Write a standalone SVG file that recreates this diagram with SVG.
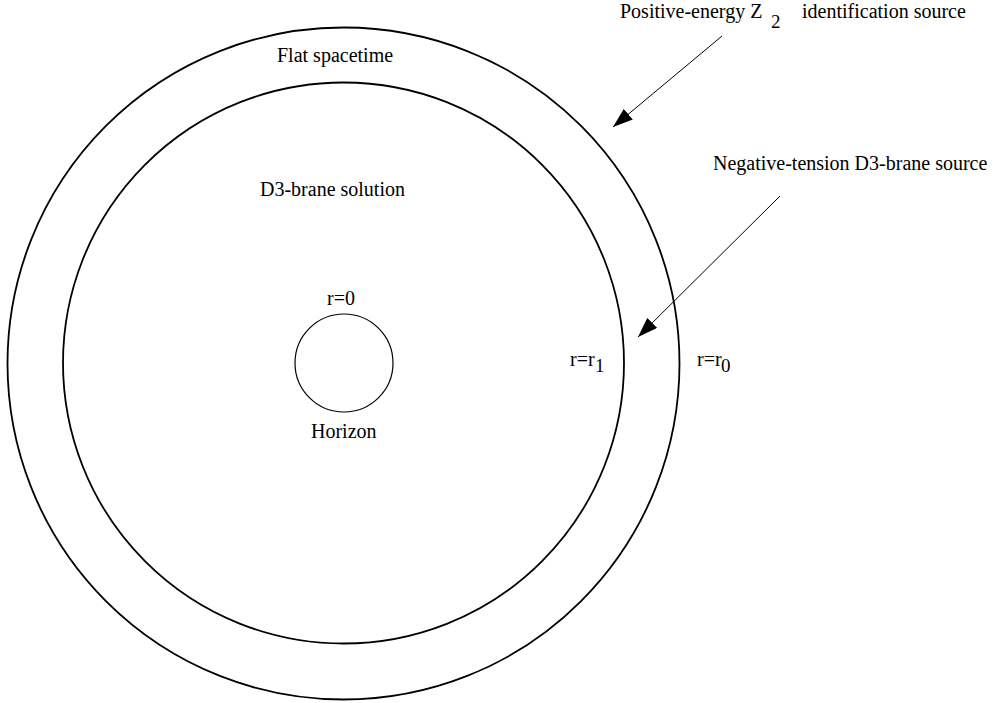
<svg xmlns="http://www.w3.org/2000/svg" width="993" height="703" viewBox="0 0 993 703">
<style>
text{font-family:"Liberation Serif",Tinos,"Times New Roman",Times,"DejaVu Serif",serif;font-size:20px;fill:#000}
.sub{font-size:19px}
.ring{fill:none;stroke:#000;stroke-width:1.8}
.hz{fill:none;stroke:#000;stroke-width:1.2}
.arr{stroke:#000;stroke-width:1;fill:none;marker-end:url(#ah)}
</style>
<defs>
<marker id="ah" markerUnits="userSpaceOnUse" markerWidth="22" markerHeight="14" refX="20" refY="7" orient="auto">
<path d="M0,0 L20,7 L0,14 Z" fill="#000"/>
</marker>
</defs>
<rect width="993" height="703" fill="#fff"/>
<g id="outer-circle">
<circle class="ring" cx="343.5" cy="363.5" r="336"/>
<text x="277" y="62" font-family="Liberation Serif, serif">Flat spacetime</text>
</g>
<g id="inner-circle">
<circle class="ring" cx="343.5" cy="363" r="280.5"/>
<text x="260" y="196">D3-brane solution</text>
</g>
<g id="horizon">
<circle class="hz" cx="344" cy="363" r="49"/>
<text x="327" y="305">r=0</text>
<text x="311" y="438">Horizon</text>
</g>
<g id="label-r1">
<text x="570" y="366">r=r</text>
<text class="sub" x="595" y="372">1</text>
</g>
<g id="label-r0">
<text x="697" y="366">r=r</text>
<text class="sub" x="721" y="372">0</text>
</g>
<g id="label-positive">
<text x="620" y="18">Positive-energy Z</text>
<text class="sub" x="771" y="28">2</text>
<text x="802" y="18">identification source</text>
</g>
<g id="label-negative">
<text x="713" y="170">Negative-tension D3-brane source</text>
</g>
<g id="connectors">
<line class="arr" x1="722" y1="36" x2="613" y2="127"/>
<line class="arr" x1="780" y1="196" x2="638" y2="337"/>
</g>
</svg>
